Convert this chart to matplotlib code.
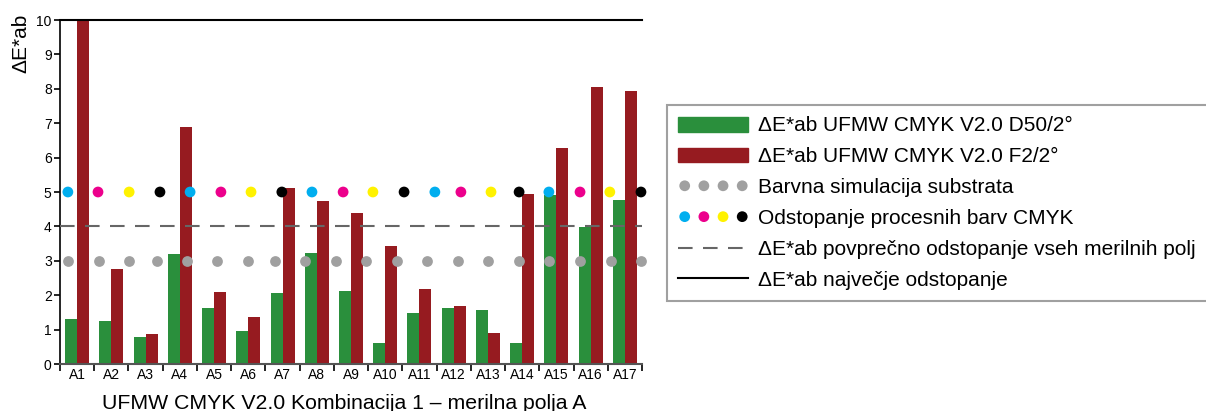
import matplotlib.pyplot as plt
import numpy as np
from matplotlib.lines import Line2D
from matplotlib.patches import Patch

plt.rcParams['font.family'] = ['Liberation Sans', 'DejaVu Sans']

# measuring fields
categories = ['A1', 'A2', 'A3', 'A4', 'A5', 'A6', 'A7', 'A8', 'A9', 'A10',
              'A11', 'A12', 'A13', 'A14', 'A15', 'A16', 'A17']

# dE*ab values per field
de_d50 = [1.30, 1.25, 0.78, 3.20, 1.63, 0.96, 2.06, 3.23, 2.12, 0.61,
          1.48, 1.63, 1.57, 0.61, 4.91, 3.98, 4.77]
de_f2 = [10.0, 2.76, 0.87, 6.89, 2.09, 1.37, 5.11, 4.74, 4.39, 3.43,
         2.18, 1.69, 0.90, 4.94, 6.28, 8.05, 7.94]

# reference dot rows (x in field units)
cmyk_x = [0.23, 1.11, 2.02, 2.92, 3.80, 4.70, 5.58, 6.48, 7.36, 8.27,
          9.14, 10.05, 10.95, 11.71, 12.59, 13.41, 14.28, 15.19, 16.06, 16.97]
cmyk_level = 5.0
substrate_x = [0.23, 1.14, 2.02, 2.83, 3.71, 4.59, 5.49, 6.28, 7.16, 8.06,
               8.94, 9.84, 10.72, 11.62, 12.50, 13.41, 14.28, 15.19, 16.09, 16.97]
substrate_level = 3.0
mean_de = 4.0
max_de = 10.0

c_green = '#2a8f3c'
c_red = '#961b20'
c_grey = '#a0a0a0'
cmyk_cols = ['#00aeef', '#ec008c', '#fff200', '#000000'] * 5

fig = plt.figure(figsize=(12.06, 4.11), dpi=100)
ax = fig.add_axes([60 / 1206, 1 - 364 / 411, 582 / 1206, 344 / 411])

x = np.arange(len(categories)) + 0.5
w = 0.35
ax.bar(x - w / 2, de_d50, w, color=c_green, zorder=2)
ax.bar(x + w / 2, de_f2, w, color=c_red, zorder=2)

ax.axhline(mean_de, color='#666666', lw=1.5, ls=(0, (7, 5)), zorder=3)
ax.axhline(max_de, color='black', lw=1.5, zorder=3, clip_on=False)

ax.scatter(substrate_x, [substrate_level] * len(substrate_x), s=60,
           color=c_grey, zorder=4, clip_on=False, linewidths=0)
ax.scatter(cmyk_x, [cmyk_level] * len(cmyk_x), s=60,
           color=cmyk_cols, zorder=4, clip_on=False, linewidths=0)

ax.set_xlim(0, len(categories))
ax.set_ylim(0, 10)
ax.set_yticks(range(11))
ax.set_xticks(range(len(categories) + 1))
ax.set_xticklabels([])
ax.set_xticks(x, minor=True)
ax.set_xticklabels(categories, minor=True)
ax.tick_params(axis='x', which='major', length=5, width=1.2, direction='out')
ax.tick_params(axis='x', which='minor', length=0, pad=3, labelsize=10)
ax.tick_params(axis='y', length=4, width=1.2, labelsize=10, pad=2)

for s in ['top', 'right']:
    ax.spines[s].set_visible(False)
ax.spines['left'].set_linewidth(1.2)
ax.spines['bottom'].set_linewidth(1.5)
ax.spines['bottom'].set_color('#555555')

fig.text(21 / 1206, 1 - 43 / 411, 'ΔE*ab', rotation=90, ha='center',
         va='center', fontsize=15)
fig.text(344 / 1206, 2 / 411, 'UFMW CMYK V2.0 Kombinacija 1 – merilna polja A',
         ha='center', va='baseline', fontsize=15.3)

handles = [
    Patch(color=c_green),
    Patch(color=c_red),
    ax.collections[0],
    ax.collections[1],
    Line2D([], [], color='#666666', lw=1.5, ls=(0, (7, 5))),
    Line2D([], [], color='black', lw=1.5),
]
labels = [
    'ΔE*ab UFMW CMYK V2.0 D50/2°',
    'ΔE*ab UFMW CMYK V2.0 F2/2°',
    'Barvna simulacija substrata',
    'Odstopanje procesnih barv CMYK',
    'ΔE*ab povprečno odstopanje vseh merilnih polj',
    'ΔE*ab največje odstopanje',
]
leg = fig.legend(handles, labels, loc='upper left',
                 bbox_to_anchor=(667 / 1206, 1 - 105 / 411),
                 fontsize=15, frameon=True, fancybox=False,
                 scatterpoints=4, scatteryoffsets=[0.5],
                 handlelength=3.36, handleheight=0.72, handletextpad=0.48,
                 labelspacing=0.57, borderpad=0.55, borderaxespad=0)
leg.get_frame().set_edgecolor('#888888')
leg.get_frame().set_linewidth(1.5)

fig.savefig('out.png', dpi=100)
